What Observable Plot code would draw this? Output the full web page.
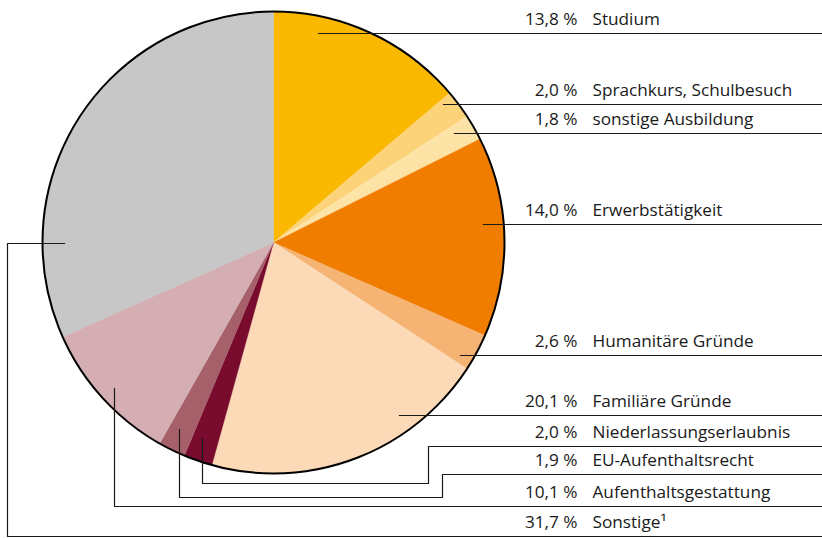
<!DOCTYPE html>
<html>
<head>
<meta charset="utf-8">
<script src="https://cdn.jsdelivr.net/npm/d3@7"></script>
<script src="https://cdn.jsdelivr.net/npm/@observablehq/plot@0.6"></script>
<style>
  html, body { margin: 0; padding: 0; background: #fff; }
  #chart svg { display: block; }
</style>
</head>
<body>
<div id="chart"></div>
<script>
// ---- data ----
const categories = [
  "Studium",
  "Sprachkurs, Schulbesuch",
  "sonstige Ausbildung",
  "Erwerbstätigkeit",
  "Humanitäre Gründe",
  "Familiäre Gründe",
  "Niederlassungserlaubnis",
  "EU-Aufenthaltsrecht",
  "Aufenthaltsgestattung",
  "Sonstige¹"
];
const shares = [13.8, 2.0, 1.8, 14.0, 2.6, 20.1, 2.0, 1.9, 10.1, 31.7];
const colors = [
  "#FAB900", "#FDD37A", "#FEE3A7", "#F07D00", "#F6B474",
  "#FCDAB7", "#780B2E", "#A6606A", "#D4AEB2", "#C6C7C6"
];

// ---- layout (annotation geometry, pixels) ----
const W = 822, H = 538;
const cx = 273, cy = 242, R = 231;
const rowY = [33, 104, 133, 224, 355, 415, 446, 474, 506, 536];
// leader paths: list of [x, y] corners, starting at the right edge
const leaders = [
  [[W, 33], [318, 33]],
  [[W, 104], [443, 104]],
  [[W, 133], [454, 133]],
  [[W, 224], [483, 224]],
  [[W, 355], [460, 355]],
  [[W, 415], [399, 415]],
  [[W, 446], [428, 446], [428, 483], [202, 483], [202, 438]],
  [[W, 474], [442, 474], [442, 497], [179, 497], [179, 429]],
  [[W, 506], [114, 506], [114, 388]],
  [[W, 536], [7, 536], [7, 243], [64, 243]]
];

// ---- derived ----
const fmt = v => d3.format(".1f")(v).replace(".", ",") + " %";
const rows = categories.map((c, i) => ({category: c, share: shares[i], y: rowY[i]}));

const arcs = d3.pie().sort(null).value(d => d.share)(rows);
const slicePts = [];
for (const a of arcs) {
  const c = a.data.category;
  slicePts.push({category: c, x: cx, y: cy});
  const n = Math.max(4, Math.ceil((a.endAngle - a.startAngle) / 0.005));
  for (let k = 0; k <= n; k++) {
    const t = a.startAngle + (a.endAngle - a.startAngle) * k / n;
    slicePts.push({category: c, x: cx + R * Math.sin(t), y: cy - R * Math.cos(t)});
  }
  slicePts.push({category: c, x: cx, y: cy});
}

const leaderPts = [];
leaders.forEach((path, i) => path.forEach(([x, y]) => leaderPts.push({id: i, x, y})));

const font = "'Open Sans', 'Noto Sans', sans-serif";
const fs = 17.2;

const plot = Plot.plot({
  width: W,
  height: H,
  margin: 0,
  x: {domain: [0, W], range: [0, W], axis: null},
  y: {domain: [0, H], range: [0, H], axis: null},
  color: {domain: categories, range: colors},
  style: {fontFamily: font, background: "#fff"},
  marks: [
    Plot.line(slicePts, {x: "x", y: "y", z: "category", fill: "category", stroke: "category", strokeWidth: 0.4, curve: "linear"}),
    Plot.dot([{x: cx, y: cy}], {x: "x", y: "y", r: R, stroke: "#000", strokeWidth: 2, fill: "none"}),
    Plot.line(leaderPts, {x: "x", y: "y", z: "id", stroke: "#1a1a1a", strokeWidth: 1.2, strokeLinecap: "square"}),
    Plot.text(rows, {x: () => 577, y: d => d.y - 14, text: d => fmt(d.share), textAnchor: "end", fontSize: fs, fill: "#1a1a1a"}),
    Plot.text(rows, {x: () => 592, y: d => d.y - 14, text: "category", textAnchor: "start", fontSize: fs, fill: "#1a1a1a"})
  ]
});
document.getElementById("chart").appendChild(plot);
</script>
</body>
</html>
